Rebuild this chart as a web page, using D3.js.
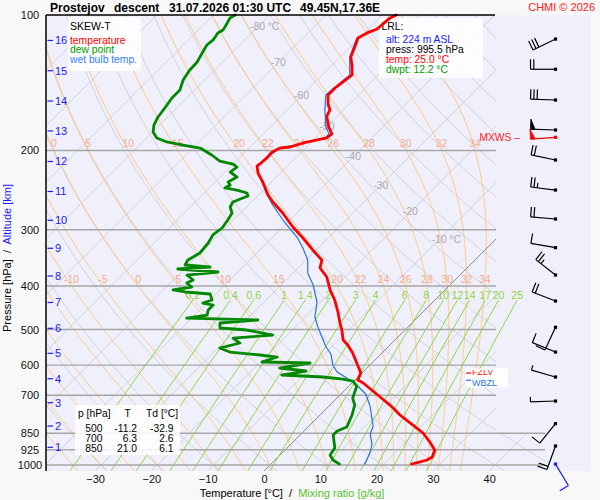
<!DOCTYPE html>
<html><head><meta charset="utf-8">
<script src="https://cdn.jsdelivr.net/npm/d3@7"></script>
<style>
html,body{margin:0;padding:0;background:#f8f8f8;}
svg{display:block;font-family:"Liberation Sans",Arial,sans-serif;}
</style></head><body>
<svg id="c" width="600" height="500"></svg>
<script>
// ---------------- DATA ----------------
const tempP = [100,101.5,107.4,109.6,112.5,117.2,124.0,129.8,135.9,140.9,145.3,150.6,157.7,162.6,167.7,177.4,183.8,187.6,192.5,196.5,197.5,201.6,206.9,212.2,216.6,224.4,236.2,251.2,260.3,275.4,295.9,312.9,332.8,350.3,364.9,382.1,408.4,429.9,457.1,483.5,501.2,527.5,541.2,563.8,593.4,624.6,647.4,657.4,698.8,743.1,774.3,815,849,888.9,926.1,959.8,974.7,995.5];
const tempT = [-57.5,-58.1,-58.4,-59.5,-60.2,-59.3,-58.1,-56.3,-54.7,-55.1,-55.4,-55.4,-53.8,-52.4,-51.9,-49.6,-47.8,-48.0,-51.3,-52.9,-54.5,-55.2,-55.1,-55.2,-55.4,-54.0,-51.3,-48.3,-46.2,-42.5,-38.2,-34.5,-30.6,-27.2,-26.1,-23.3,-20.4,-17.8,-15.1,-12.8,-11.2,-9.2,-7.5,-5.2,-2.7,-0.2,0.5,2.0,6.7,11.4,14.2,18.3,21.5,24.3,26.6,27.4,27.0,25.0];

const dewP = [100,101.5,106.3,108.0,109.6,113.6,116.6,120.8,127.2,132.5,139.5,146.8,152.9,160.9,168.5,175.6,182.0,187.6,191.5,194.5,197.5,204.7,211.1,214.4,217.7,223.3,229.1,235.0,238.7,242.3,244.9,248.6,252.5,260.4,267.1,275.4,285.5,297.4,308.2,321.1,338.0,350.3,359.4,363.1,366.8,372.5,378.3,388.1,394.1,402.2,408.4,412.6,416.9,429.9,436.6,441.1,452.5,464.2,471.4,476.2,483.6,496.1,501.2,514.2,522.2,535.7,549.6,561.0,569.6,575.5,590.4,593.4,608.8,618.2,631.0,637.5,644.1,650.7,667.6,709.9,735.6,774.3,823.3,840.3,857.7,916.6,950.0,974.7,995.5];
const dewT = [-86.1,-86.5,-85.8,-85.6,-86.0,-85.6,-85.8,-85.3,-84.5,-84.4,-83.8,-82.6,-82.6,-82.1,-81.7,-81.0,-79.9,-78.2,-75.7,-72.3,-68.7,-65.4,-62.9,-60.0,-58.8,-59.1,-57.0,-57.7,-56.8,-57.2,-54.7,-52.4,-51.7,-53.3,-52.9,-51.5,-51.0,-50.6,-51.0,-50.4,-50.1,-51.0,-50.6,-45.8,-51.2,-43.5,-48.5,-46.5,-47.1,-45.5,-48.3,-45.8,-41.0,-39.6,-40.7,-38.5,-38.5,-37.8,-40.9,-27.9,-34.1,-33.2,-28.1,-22.6,-29.1,-27.0,-29.7,-27.2,-21.3,-17.9,-19.7,-11.0,-15.5,-10.3,-13.9,-6.2,-2.3,-0.2,1.4,2.8,4.4,5.7,6.9,5.9,5.9,8.5,8.9,10.3,12.2];

const wbP = [100,107.4,112.5,124.0,135.9,145.3,150.6,162.6,177.4,183.8,187.6,193.5,197.5,206.9,216.6,224.4,233.8,247.4,263.0,285.5,300.5,311.4,329.4,350.3,374.4,398.1,434.3,469.0,493.5,514.2,546.8,566.7,599.4,621.3,631.0,647.4,664.2,695.5,739.5,819.2,853.4,898.3,935.8,959.8,995.5];
const wbT = [-57.7,-58.6,-60.4,-58.3,-55.1,-55.6,-55.8,-53.3,-50.1,-48.3,-48.3,-51.7,-54.5,-55.1,-55.4,-54.0,-51.9,-49.2,-46.0,-41.2,-38.0,-35.7,-32.7,-29.7,-27.4,-24.3,-20.6,-18.3,-16.0,-14.0,-11.0,-8.9,-6.6,-4.6,-3.2,-0.9,1.2,4.4,7.3,11.4,12.3,14.4,15.5,16.0,16.7];

const altKm = [16,15,14,13,12,11,10,9,8,7,6,5,4,3,2,1];
const altP  = [113.9,133.0,155.3,181.0,211.6,246.7,285.9,329.9,380.2,435.4,496.9,564.7,643.1,727.1,819.2,913.5];

const windP   = [113.1,132.0,154.5,180.1,210.0,244.9,284.0,328.9,378.3,432.1,494.3,561.0,637.5,720.8,809.6,907.4];
const windDir = [244,270,272,272,282,277,275,280,308,291,205,292,286,268,219,200];
const windSpd = [30,20,30,50,20,25,20,10,25,20,10,10,5,5,10,20];
const sfcWind = [995.5,149,10];      // p, dir, kt
const mxwsWind = [187.0,266,50];     // p, dir, kt

const pLabels = [100,200,300,400,500,600,700,850,925,1000];
const pLines  = [200,300,400,500,600,700,850,925,1000];
const tTicks  = [-30,-20,-10,0,10,20,30,40];
const mixW    = [0.2,0.4,0.6,1,1.4,2,3,4,6,8,10,12,14,17,20,25];
const thetaW  = [-35,-30,-25,-20,-15,-10,-5,0,5,10,15,20,22,24,26,28,30,32,34];
const twLab200 = [0,5,10,15,20,22,24,26,28,30,32,34];
const twLab400 = [-10,-5,0,5,10,15,20,22,24,26,28,30,32,34];
const isoLabT = [-80,-70,-60,-50,-40,-30,-20,-10];
const isoLabP = [106.3,127.5,151,176.9,206.1,239,274,315.1];

const tableP  = [500,700,850];
const tableT  = [-11.2,6.3,21.0];
const tableTd = [-32.9,2.6,6.1];
const lrlAlt = 224, lrlP = 995.5, lrlT = 25.0, lrlTd = 12.2;
const fzlP = 624.6, wbzlP = 648;

// ---------------- GEOMETRY ----------------
const svg = d3.select('#c');
const pxLeft = 46, pxRight = 496, pxRightLow = 545, pxPanelRight = 591, pxTop = 15;
const pBottom = 1031;
const yScale = d3.scaleLog().domain([100,1000]).range([15,465]);
const yB = yScale(pBottom);
const xScale = d3.scaleLinear().domain([0,10]).range([264,320.3]);
const X = (T,p) => xScale(T) + (yB - yScale(p));
const Y = p => yScale(p);
const FONT = '"Liberation Sans",Arial,sans-serif';

// physics helpers for background curves
const satE = Tc => 6.112*Math.exp(17.67*Tc/(Tc+243.5));
function lapse(p,Tc){
  const T=Tc+273.15, e=satE(Tc), rs=0.622*e/(p-e);
  const Rd=287.04, cp=1005.7, L=2.501e6;
  return (Rd*T + L*rs)/(cp + L*L*rs*0.622/(Rd*T*T))/p;
}
function rk(p,T,h){const k1=lapse(p,T),k2=lapse(p+h/2,T+h/2*k1),k3=lapse(p+h/2,T+h/2*k2),k4=lapse(p+h,T+h*k3);return T+h*(k1+2*k2+2*k3+k4)/6;}
function moistCurve(tw){
  const down=[]; let Td=tw,pd=1000;
  while(pd<pBottom){const h=Math.min(1,pBottom-pd);Td=rk(pd,Td,h);pd+=h;down.push([pd,Td]);}
  const up=[[1000,tw]]; let T=tw,p=1000;
  while(p>100){const h=-Math.min(2,p-100);T=rk(p,T,h);p+=h;up.push([p,T]);}
  return down.reverse().concat(up);
}
function tAt(curve,p){
  for(let i=0;i<curve.length-1;i++){
    const a=curve[i],b=curve[i+1];
    if((a[0]-p)*(b[0]-p)<=0){const f=(p-a[0])/(b[0]-a[0]);return a[1]+f*(b[1]-a[1]);}
  }
  return curve[curve.length-1][1];
}
const mixT = (w,p)=>{const e=p*w/(622+w);const l=Math.log(e/6.112);return 243.5*l/(17.67-l);};

// ---------------- BACKGROUND ----------------
svg.append('rect').attr('width',600).attr('height',500).attr('fill','#f8f8f8');
svg.append('rect').attr('x',pxLeft).attr('y',pxTop).attr('width',pxPanelRight-pxLeft).attr('height',yB-pxTop).attr('fill','#f0f0fc');

const defs = svg.append('defs');
defs.append('clipPath').attr('id','gridClip').append('polygon')
  .attr('points',`${pxLeft},${pxTop} ${pxRight},${pxTop} ${pxRight},${Y(850)} ${pxRightLow},${Y(850)} ${pxRightLow},${yB} ${pxLeft},${yB}`);
defs.append('clipPath').attr('id','mixClip').append('rect')
  .attr('x',pxLeft).attr('y',pxTop).attr('width',pxRightLow-pxLeft).attr('height',yB-pxTop);
defs.append('clipPath').attr('id','plotClip').append('rect')
  .attr('x',pxLeft).attr('y',pxTop-2).attr('width',pxPanelRight-pxLeft).attr('height',yB-pxTop+2);
defs.append('clipPath').attr('id','fzlClip').append('rect')
  .attr('x',460).attr('y',Y(fzlP)-3).attr('width',60).attr('height',20);

const line = d3.line().x(d=>X(d[1],d[0])).y(d=>Y(d[0]));
const grid = svg.append('g').attr('clip-path','url(#gridClip)').attr('fill','none');

// isotherms
d3.range(-120,41,10).filter(t=>t!==0).forEach(t=>{
  grid.append('path').attr('d',line([[pBottom,t],[100,t]])).attr('stroke','#d2d2d8').attr('stroke-width',1);
});
// dry adiabats
const pSamp = d3.range(100,pBottom,10).concat([pBottom]);
d3.range(-40,181,10).forEach(th=>{
  const pts = pSamp.map(p=>[p,(th+273.15)*Math.pow(p/1000,0.2857)-273.15]);
  grid.append('path').attr('d',line(pts)).attr('stroke','#d2d2d8').attr('stroke-width',1);
});
// pseudo-adiabats
const moist = {};
thetaW.forEach(tw=>{
  const c = moistCurve(tw); moist[tw]=c;
  grid.append('path').attr('d',line(c)).attr('stroke','#ffc77e').attr('stroke-width',1);
});
// 0 C isotherm
grid.append('path').attr('d',line([[pBottom,0],[100,0]])).attr('stroke','#707070').attr('stroke-width',0.8);

// mixing ratio lines
const mixG = svg.append('g').attr('clip-path','url(#mixClip)');
const pMix = d3.range(430,pBottom,10).concat([pBottom]);
mixW.forEach(w=>{
  mixG.append('path').attr('d',line(pMix.map(p=>[p,mixT(w,p)])))
    .attr('fill','none').attr('stroke','#8fd43e').attr('stroke-width',1);
  svg.append('text').attr('x',X(mixT(w,430),430)).attr('y',Y(430)-1.5)
    .attr('text-anchor','middle').attr('font-size',10.5).attr('fill','#8fd43e').text(String(w));
});

// pressure lines
pLines.forEach(p=>{
  svg.append('line').attr('x1',pxLeft).attr('x2',p>=850?pxRightLow:pxRight)
    .attr('y1',Y(p)).attr('y2',Y(p)).attr('stroke','#a6a6a6').attr('stroke-width',1.4);
});

// theta-w labels
[[200,twLab200],[400,twLab400]].forEach(([p,arr])=>{
  arr.forEach(tw=>{
    svg.append('text').attr('x',X(tAt(moist[tw],p),p)).attr('y',Y(p)-3)
      .attr('text-anchor','middle').attr('font-size',10.5).attr('fill','#f5aa8c').text(String(tw));
  });
});
// isotherm labels
isoLabT.forEach((t,i)=>{
  const p=isoLabP[i], x=X(t,p), y=Y(p)+3.5;
  svg.append('text').attr('x',x).attr('y',y).attr('text-anchor','middle')
    .attr('font-size',10.5).attr('fill','#a9a9a9').text(String(t));
  if(i===0||i===isoLabT.length-1)
    svg.append('text').attr('x',x+10).attr('y',y).attr('font-size',10.5).attr('fill','#a9a9a9').text('°C');
});

// ---------------- BOXES ----------------
svg.append('rect').attr('x',68).attr('y',17).attr('width',73).attr('height',54).attr('fill','#fff').attr('opacity',0.85);
svg.append('rect').attr('x',379).attr('y',18).attr('width',104).attr('height',60).attr('fill','#fff').attr('opacity',0.85);
svg.append('rect').attr('x',75).attr('y',405).attr('width',105).attr('height',50).attr('fill','#fff').attr('opacity',0.85);

const txt = (x,y,s,color,opts={})=>{
  const t=svg.append('text').attr('x',x).attr('y',y).attr('font-size',opts.size||10)
    .attr('fill',color||'#000').text(s);
  if(opts.anchor) t.attr('text-anchor',opts.anchor);
  if(opts.weight) t.attr('font-weight',opts.weight);
  return t;
};
txt(70,29.5,'SKEW-T','#000',{size:10.5});
txt(70,43.6,'temperature','#ff0000',{size:10.3});
txt(70,53.4,'dew point','#009900',{size:10.3});
txt(70,63.2,'wet bulb temp.','#3380ff',{size:10.3});

txt(381.5,30,'LRL:','#000',{size:10.3});
txt(386,43,`alt: ${lrlAlt} m ASL`,'#1a1aff',{size:10.3});
txt(386,53.3,`press: ${lrlP.toFixed(1)} hPa`,'#000',{size:10.3});
txt(386,63.4,`temp: ${lrlT.toFixed(1)} °C`,'#ff0000',{size:10.3});
txt(386,73.4,`dwpt: ${lrlTd.toFixed(1)} °C`,'#009900',{size:10.3});

txt(78,416.5,'p [hPa]','#000',{size:10.3});
txt(127.7,416.5,'T','#000',{anchor:'middle',size:10.3});
txt(146,416.5,'Td [°C]','#000',{size:10.3});
tableP.forEach((p,i)=>{
  const y=431.5+i*10;
  txt(102.5,y,String(p),'#000',{anchor:'end',size:10.3});
  txt(137,y,tableT[i].toFixed(1),'#000',{anchor:'end',size:10.3});
  txt(173.5,y,tableTd[i].toFixed(1),'#000',{anchor:'end',size:10.3});
});

// ---------------- PROFILES ----------------
const prof = svg.append('g').attr('clip-path','url(#plotClip)').attr('fill','none')
  .attr('stroke-linejoin','round').attr('stroke-linecap','round');
prof.append('path').attr('d',line(d3.zip(wbP,wbT))).attr('stroke','#2b6fe6').attr('stroke-width',1.2);
prof.append('path').attr('d',line(d3.zip(dewP,dewT))).attr('stroke','#008800').attr('stroke-width',2.8);
prof.append('path').attr('d',line(d3.zip(tempP,tempT))).attr('stroke','#ff0000').attr('stroke-width',2.8);

// ---------------- WIND BARBS ----------------
const barbX = 555.5;
function barb(y0,dir,spd,color){
  const g=svg.append('g').attr('stroke',color).attr('fill',color).attr('stroke-width',1.2);
  const L=25, r=dir*Math.PI/180, ux=Math.sin(r), uy=-Math.cos(r), px=-uy, py=ux;
  const ex=barbX+ux*L, ey=y0+uy*L;
  g.append('line').attr('x1',barbX).attr('y1',y0).attr('x2',ex).attr('y2',ey);
  let rem=Math.round(spd/5)*5, pos=0;
  while(rem>=50){
    const ax=ex-ux*pos, ay=ey-uy*pos;
    g.append('path').attr('d',`M${ax},${ay}L${ax+px*10},${ay+py*10}L${ax-ux*4.5},${ay-uy*4.5}Z`).attr('stroke-width',0.8);
    pos+=6; rem-=50;
  }
  while(rem>=10){
    const ax=ex-ux*pos, ay=ey-uy*pos;
    g.append('line').attr('x1',ax).attr('y1',ay).attr('x2',ax+px*10).attr('y2',ay+py*10);
    pos+=3.3; rem-=10;
  }
  if(rem>=5){
    const ax=ex-ux*pos, ay=ey-uy*pos;
    g.append('line').attr('x1',ax).attr('y1',ay).attr('x2',ax+px*5).attr('y2',ay+py*5);
  }
  g.append('rect').attr('x',barbX-1.6).attr('y',y0-1.6).attr('width',3.2).attr('height',3.2).attr('stroke','none');
}
windP.forEach((p,i)=>barb(Y(p),windDir[i],windSpd[i],'#000'));
barb(Y(mxwsWind[0]),mxwsWind[1],mxwsWind[2],'#ff0000');
barb(Y(sfcWind[0]),sfcWind[1],sfcWind[2],'#1a1aff');
txt(520,Y(mxwsWind[0])+3.5,'MXWS –','#ff2020',{anchor:'end',size:10.3});

// FZLV / WBZL
svg.append('rect').attr('x',465).attr('y',Y(fzlP)-4.5).attr('width',43).attr('height',19).attr('fill','#fff').attr('opacity',0.92);
svg.append('line').attr('x1',466).attr('x2',471).attr('y1',Y(fzlP)).attr('y2',Y(fzlP)).attr('stroke','#ff0000').attr('stroke-width',1.2);
txt(472,Y(fzlP)+2,'FZLV','#ff2020',{size:9}).attr('clip-path','url(#fzlClip)');
svg.append('line').attr('x1',466).attr('x2',471).attr('y1',Y(wbzlP)).attr('y2',Y(wbzlP)).attr('stroke','#2b6fe6').attr('stroke-width',1.2);
txt(472,Y(wbzlP)+6,'WBZL','#2b6fe6',{size:9});

// ---------------- AXES ----------------
svg.append('line').attr('x1',pxLeft).attr('x2',pxLeft).attr('y1',pxTop).attr('y2',yB).attr('stroke','#000').attr('stroke-width',1.5);
svg.append('line').attr('x1',pxLeft).attr('x2',495).attr('y1',pxTop).attr('y2',pxTop).attr('stroke','#000').attr('stroke-width',1.5);

pLabels.forEach(p=>txt(30,Y(p)+4,String(p),'#111',{anchor:'middle',size:11}));

altKm.forEach((k,i)=>{
  const y=Y(altP[i]);
  svg.append('line').attr('x1',47.5).attr('x2',53).attr('y1',y).attr('y2',y).attr('stroke','#1a1aff').attr('stroke-width',1.2);
  txt(55,y+4,String(k),'#1a1aff',{size:11});
});

const xAxis = svg.append('g').attr('transform',`translate(0,${yB})`)
  .call(d3.axisBottom(xScale).tickValues(tTicks).tickSize(0).tickPadding(4).tickFormat(d3.format('d')));
xAxis.select('.domain').remove();
xAxis.selectAll('text').attr('font-size',11).attr('font-family',FONT).attr('fill','#111');

const yt = svg.append('text').attr('transform','translate(11,258) rotate(-90)').attr('text-anchor','middle')
  .attr('font-size',11).style('white-space','pre');
yt.append('tspan').attr('fill','#000').text('Pressure [hPa]  /  ');
yt.append('tspan').attr('fill','#1a1aff').text('Altitude [km]');

const xt = svg.append('text').attr('x',292).attr('y',497).attr('text-anchor','middle')
  .attr('font-size',11).style('white-space','pre');
xt.append('tspan').attr('fill','#000').text('Temperature [°C]  /  ');
xt.append('tspan').attr('fill','#5cc030').text('Mixing ratio [g/kg]');

// title
txt(50,11.5,'Prostejov','#000',{size:12,weight:'bold'});
txt(114,11.5,'descent','#000',{size:12,weight:'bold'});
txt(169,11.5,'31.07.2026 01:30 UTC','#000',{size:12,weight:'bold'});
txt(300,11.5,'49.45N,17.36E','#000',{size:12,weight:'bold'});
txt(595,11,'CHMI © 2026','#ff2020',{size:11,anchor:'end'});
</script>
</body></html>
